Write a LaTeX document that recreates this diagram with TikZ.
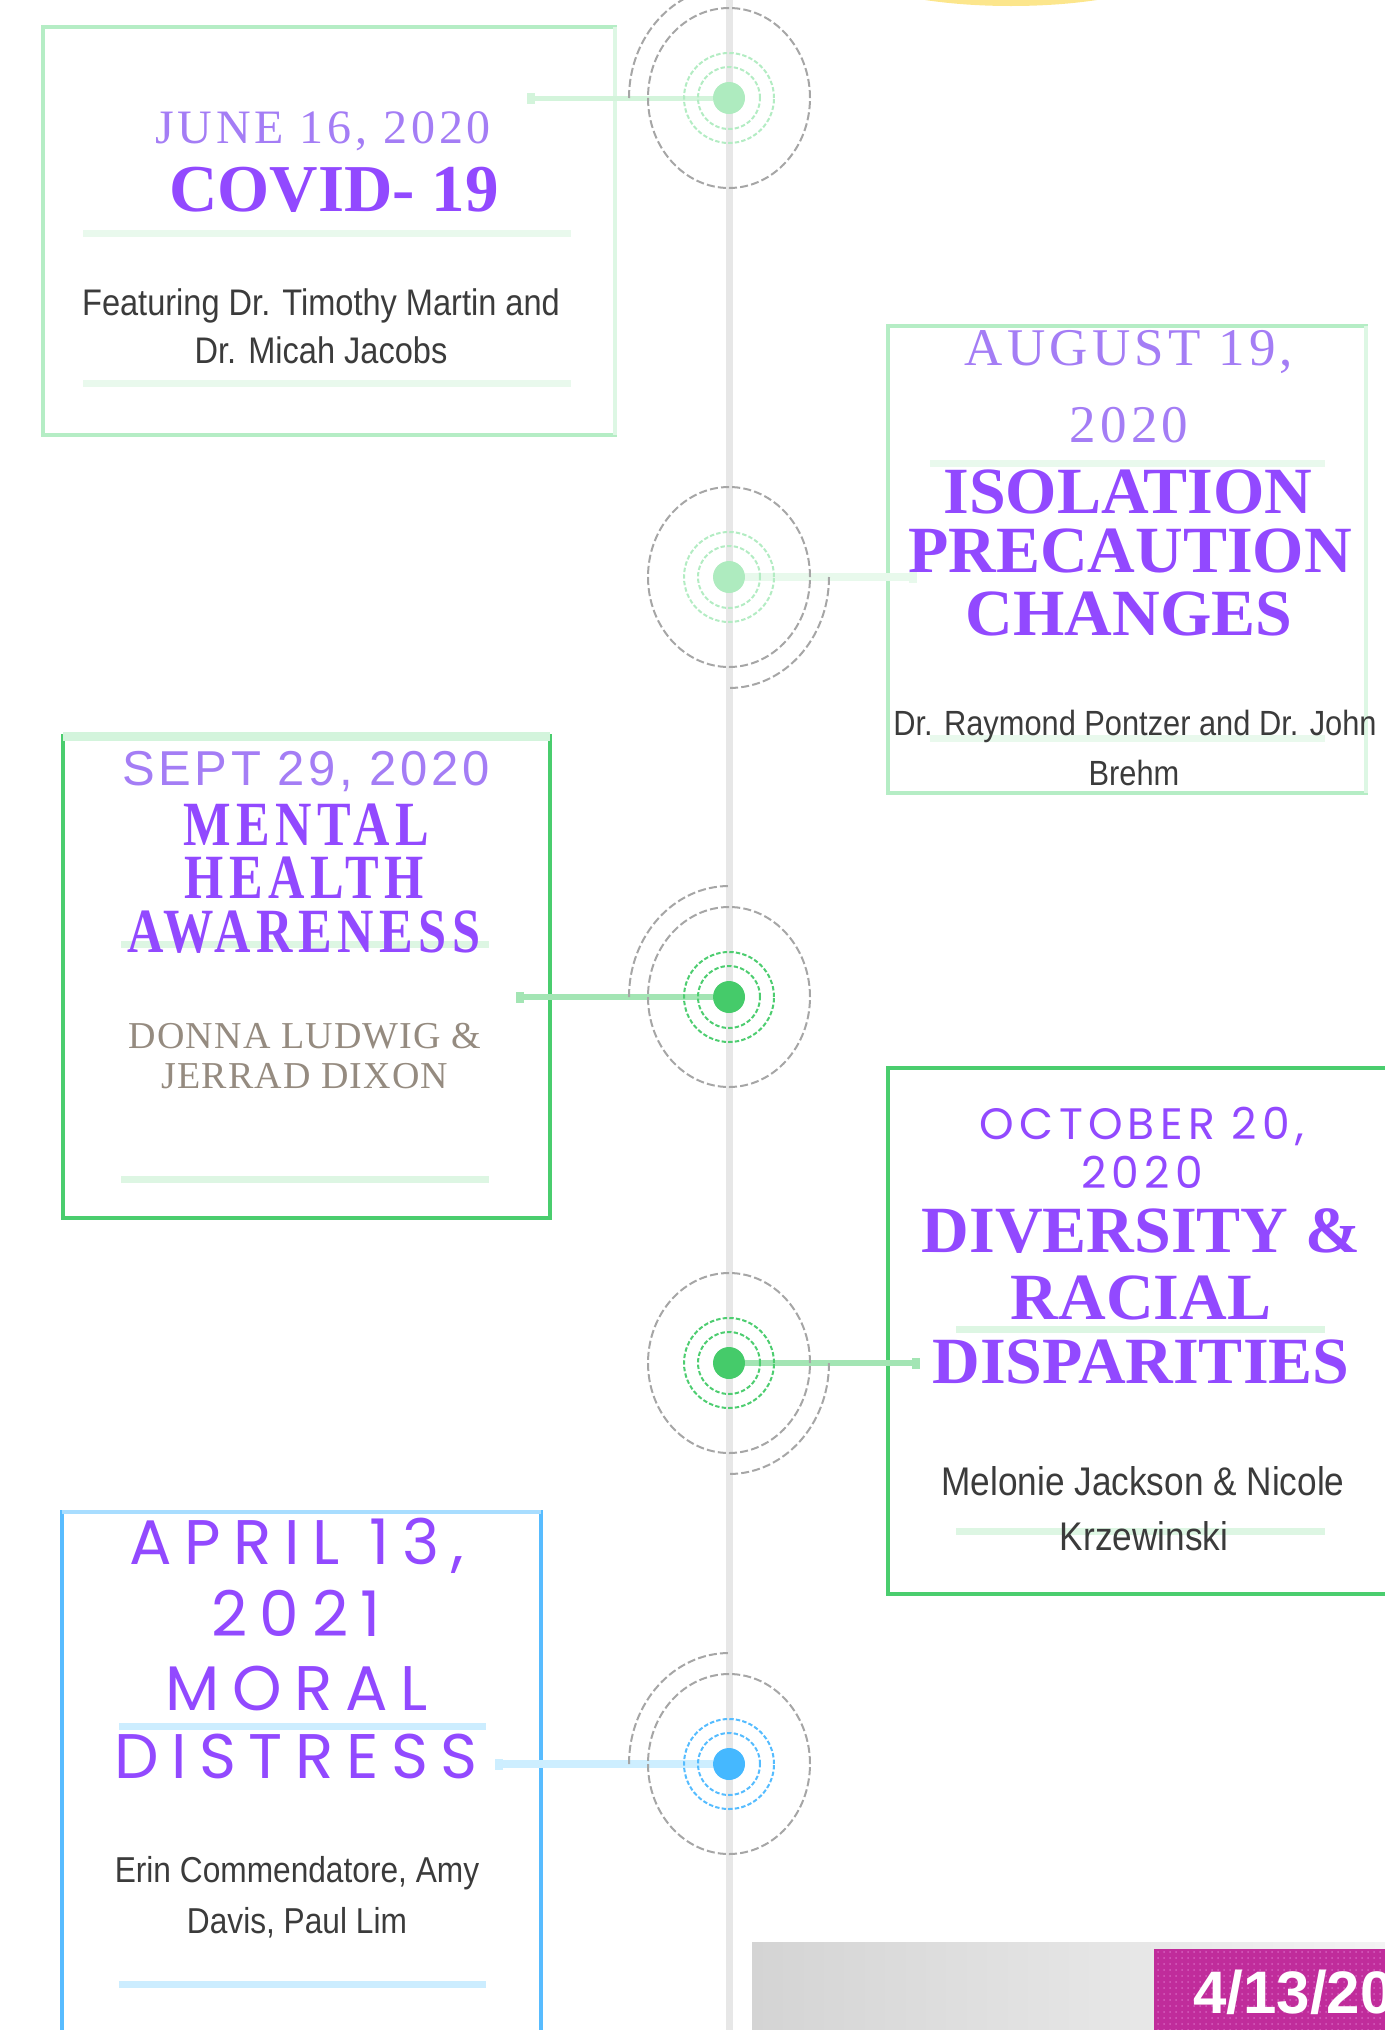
\documentclass[tikz,border=0pt]{standalone}
\usepackage{fontspec}
\setmainfont{Liberation Serif}
\newfontfamily\datefont[LetterSpace=8]{Liberation Serif}
\newfontfamily\headfont{Liberation Serif}
\newfontfamily\capsfont[LetterSpace=3]{Liberation Serif}
\newfontfamily\slabfont[FakeStretch=0.8,LetterSpace=9]{Liberation Serif}
\newfontfamily\lightsansfont[LetterSpace=7]{Liberation Sans}
\newfontfamily\techfont[LetterSpace=12]{Poppins}
\newfontfamily\techwidefont[LetterSpace=20]{Poppins}
\newfontfamily\namefont[FakeStretch=0.88]{Liberation Sans}
\newfontfamily\badgefont{Liberation Sans}
\newcommand\setfs[1]{\fontsize{#1pt}{#1pt}\selectfont}
\usetikzlibrary{positioning,arrows.meta,patterns}

\definecolor{spine}{HTML}{E7E7E7}
\definecolor{ringgray}{HTML}{A6A6A6}
\definecolor{mint}{HTML}{B5EDC5}
\definecolor{mintpale}{HTML}{DDF7E4}
\definecolor{mintring}{HTML}{B3ECC3}
\definecolor{mintdot}{HTML}{AEEBBF}
\definecolor{mintlinkA}{HTML}{D3F4DB}
\definecolor{mintlinkB}{HTML}{E8F9EC}
\definecolor{leaf}{HTML}{4ACD6E}
\definecolor{leafband}{HTML}{D3F4DC}
\definecolor{leafring}{HTML}{4DCD70}
\definecolor{leafdot}{HTML}{45CB6A}
\definecolor{leaflink}{HTML}{A3E5B4}
\definecolor{sky}{HTML}{58BCFF}
\definecolor{skyband}{HTML}{A8DDFF}
\definecolor{skyring}{HTML}{55BCFF}
\definecolor{skydot}{HTML}{45B8FF}
\definecolor{skylink}{HTML}{CDEEFF}
\definecolor{rulemint}{HTML}{E9F9ED}
\definecolor{ruleleaf}{HTML}{DDF6E3}
\definecolor{rulesky}{HTML}{CCEDFF}
\definecolor{titleviolet}{HTML}{9249FF}
\definecolor{lilac}{HTML}{A47DF5}
\definecolor{ink}{HTML}{3B3B3B}
\definecolor{taupe}{HTML}{958B80}
\definecolor{plum}{HTML}{C02C9B}
\definecolor{plumdot}{HTML}{D65FBE}
\definecolor{stripL}{HTML}{D4D4D4}
\definecolor{stripR}{HTML}{F3F3F3}
\definecolor{sun}{HTML}{FCE68C}

\begin{document}
\begin{tikzpicture}[x=0.5pt,y=-0.5pt,>=Stealth,
  txt/.style={inner sep=0pt,anchor=base},
  card/.style 2 args={draw,line width=2.2pt,outer sep=0pt,inner sep=0pt,minimum width=#1,minimum height=#2},
  divider/.style={line width=3.5pt},
  ring/.style={draw=ringgray,line width=1pt,dash pattern=on 4pt off 1.6pt},
  halo/.style={line width=1pt,dash pattern=on 2.2pt off 1.1pt},
  hub/.style={circle,minimum size=16pt,inner sep=0pt},
  link/.style={{Square[length=4pt,width=5.5pt]}-},
  date/.style={txt,text=lilac,font=\datefont\setfs{#1}},
  head/.style={txt,text=titleviolet,font=\headfont\bfseries\setfs{#1}},
  slab/.style={txt,text=titleviolet,font=\slabfont\bfseries\setfs{#1}},
  lightsans/.style={txt,text=lilac,font=\lightsansfont\setfs{#1}},
  tech/.style={txt,text=titleviolet,font=\techfont\setfs{#1}},
  techwide/.style={txt,text=titleviolet,font=\techwidefont\setfs{#1}},
  who/.style={txt,text=ink,font=\namefont\setfs{#1}},
  capsname/.style={txt,text=taupe,font=\capsfont\setfs{#1}}]
\useasboundingbox (0,0) rectangle (1385,2030);
\clip (0,0) rectangle (1385,2030);
\fill[sun] (1011,-40) ellipse [x radius=87pt,y radius=23pt];
\coordinate (top) at (729,0);
\coordinate (bottom) at (729,2030);
\draw[spine,line width=3.5pt] (top) -- (bottom);

% cards
\node[card={286pt}{204pt},draw=mint] (june) at (329,231) {};
\draw[mintpale,line width=2.2pt] (june.north east) -- (june.south east);
\node[card={239pt}{233.5pt},draw=mint] (aug) at (1127,559.5) {};
\draw[mintpale,line width=2.2pt] (aug.north east) -- (aug.south east);
\node[card={243.5pt}{241pt},draw=leaf] (sept) at (306.5,977) {};
\draw[leafband,line width=4.5pt] (sept.north west) -- (sept.north east);
\node[card={256pt}{263pt},draw=leaf] (oct) at (1144,1331) {};
\node[card={239.5pt}{269pt},draw=sky] (apr) at (301.5,1781) {};
\draw[skyband,line width=2.2pt] (apr.north west) -- (apr.north east);

\draw[divider,rulemint] (83,233) -- (571,233) (83,383) -- (571,383);
\draw[divider,rulemint] (930,463) -- (1325,463) (930,738) -- (1325,738);
\draw[divider,ruleleaf] (121,944) -- (489,944) (121,1179) -- (489,1179);
\draw[divider,ruleleaf] (956,1329) -- (1325,1329) (956,1531) -- (1325,1531);
\draw[divider,rulesky] (119,1726) -- (486,1726) (119,1984) -- (486,1984);

% texts
\node[date=24] (juneDate) at (323,143) {JUNE 16, 2020};
\node[head=33.5] (juneTitle) at (334,211) {COVID- 19};
\node[who=18.5] (juneWhoA) at (321,315) {Featuring Dr. Timothy Martin and};
\node[who=18.5] (juneWhoB) at (321,363) {Dr. Micah Jacobs};

\node[date=26.5] (augDateA) at (1129,365) {AUGUST 19,};
\node[date=26.5] (augDateB) at (1129,442) {2020};
\node[head=33] (augTitleA) at (1128,513) {ISOLATION};
\node[head=33] (augTitleB) at (1130,572) {PRECAUTION};
\node[head=33] (augTitleC) at (1129,635) {CHANGES};
\node[who=17.5] (augWhoA) at (1135,735) {Dr. Raymond Pontzer and Dr. John};
\node[who=17.5] (augWhoB) at (1134,785) {Brehm};

\node[lightsans=24.5] (septDate) at (306,785) {SEPT 29, 2020};
\node[slab=31.5] (septTitleA) at (306,845) {MENTAL};
\node[slab=31.5] (septTitleB) at (304,898) {HEALTH};
\node[slab=31.5] (septTitleC) at (304,952) {AWARENESS};
\node[capsname=19] (septWhoA) at (305,1048) {DONNA LUDWIG \&};
\node[capsname=19] (septWhoB) at (305,1088) {JERRAD DIXON};

\node[tech=22] (octDateA) at (1142,1139) {OCTOBER 20,};
\node[tech=22] (octDateB) at (1142,1188) {2020};
\node[head=33] (octTitleA) at (1141,1252) {DIVERSITY \&};
\node[head=33] (octTitleB) at (1141,1319) {RACIAL};
\node[head=33] (octTitleC) at (1141,1383) {DISPARITIES};
\node[who=20] (octWhoA) at (1143,1495) {Melonie Jackson \& Nicole};
\node[who=20] (octWhoB) at (1144,1550) {Krzewinski};

\node[techwide=31.5] (aprDateA) at (297,1564) {APRIL 13,};
\node[techwide=31.5] (aprDateB) at (296,1636) {2021};
\node[techwide=31.5] (aprTitleA) at (297,1710) {MORAL};
\node[techwide=31.5] (aprTitleB) at (296,1778) {DISTRESS};
\node[who=18] (aprWhoA) at (297,1882) {Erin Commendatore, Amy};
\node[who=18] (aprWhoB) at (297,1933) {Davis, Paul Lim};

% markers
\foreach \i/\yy/\hc/\dc/\lc/\lw/\tx/\sx/\sa/\ea in {
  1/98/mintring/mintdot/mintlinkA/2.5/527/-50/180/90,
  2/577/mintring/mintdot/mintlinkB/4/917/50/0/-90,
  3/997/leafring/leafdot/leaflink/3/516/-50/180/90,
  4/1363/leafring/leafdot/leaflink/2.6/920/50/0/-90,
  5/1764/skyring/skydot/skylink/4/495/-50/180/90}
{
  \coordinate (m\i) at (729,\yy);
  \coordinate (tip\i) at (\tx,\yy);
  \node[hub,fill=\dc] (dot\i) at (m\i) {};
  \draw[link,draw=\lc,line width=\lw pt] (tip\i) -- (dot\i);
  \draw[halo,draw=\hc] (m\i) circle [radius=15.5pt] (m\i) circle [radius=22.5pt];
  \draw[ring] (m\i) ellipse [x radius=40.5pt,y radius=45pt];
  \draw[ring] ([xshift=\sx pt]m\i) arc [start angle=\sa,end angle=\ea,x radius=50pt,y radius=55.5pt];
}

% date badge
\fill[left color=stripL,right color=stripR] (752,1942) rectangle (1385,2030);
\fill[plum] (1154,1949) rectangle (1385,2030);
\fill[pattern=dots,pattern color=plumdot] (1154,1949) rectangle (1385,2030);
\node[txt,anchor=base west,text=white,font=\badgefont\bfseries\setfs{30}] (badge) at (1193,2013) {4/13/2021};
\end{tikzpicture}
\end{document}
